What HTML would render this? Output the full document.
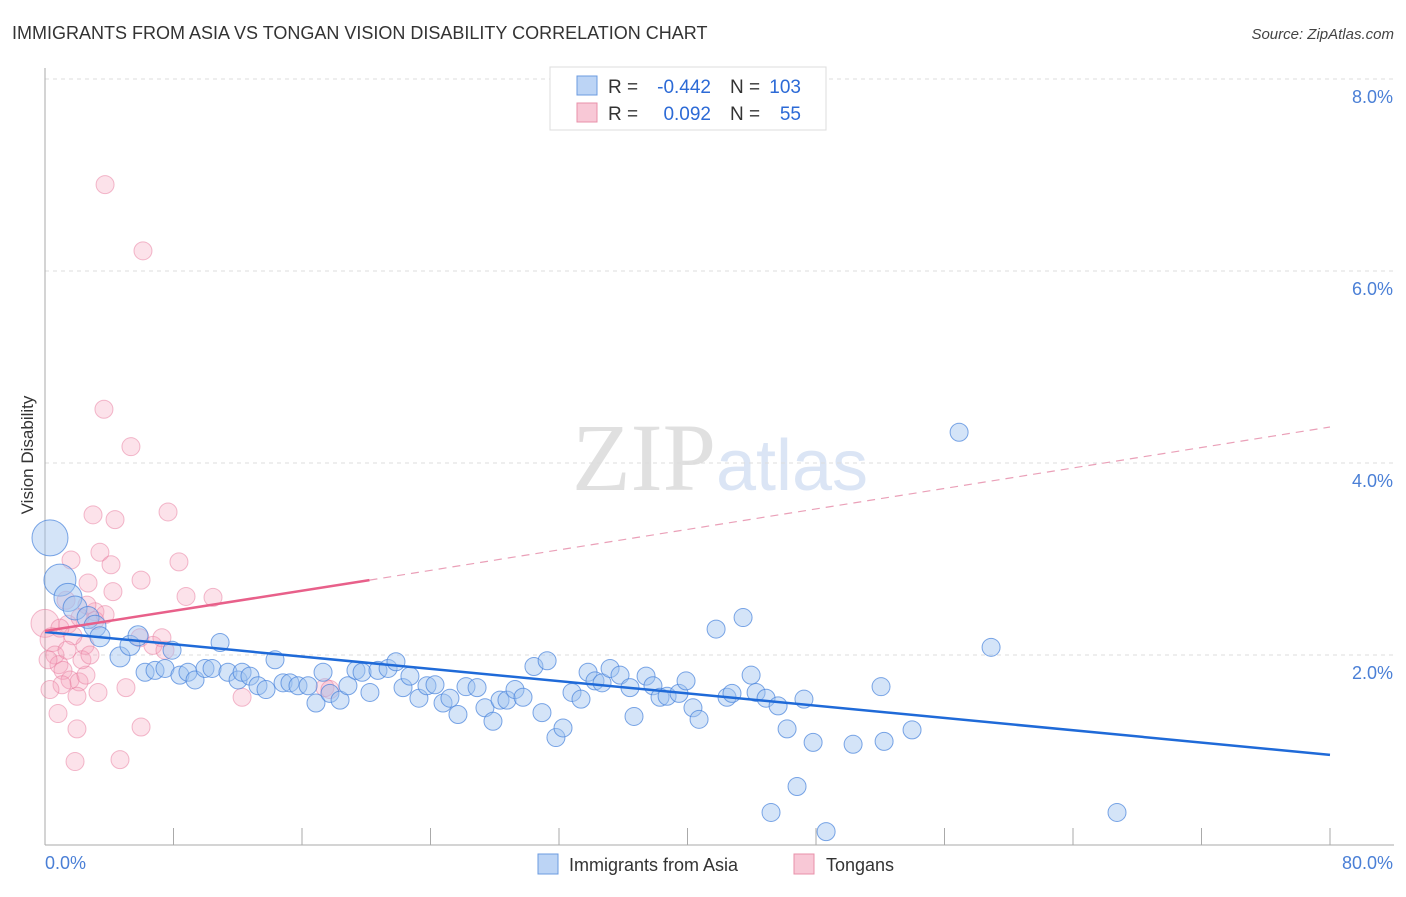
<!DOCTYPE html>
<html><head><meta charset="utf-8"><style>
body{margin:0;background:#fff;font-family:"Liberation Sans",sans-serif}
</style></head><body>
<svg id="chart" width="1406" height="892" xmlns="http://www.w3.org/2000/svg">
<text x="12" y="39" font-size="18" fill="#333">IMMIGRANTS FROM ASIA VS TONGAN VISION DISABILITY CORRELATION CHART</text>
<text x="1394" y="39" font-size="15" fill="#444" text-anchor="end" font-style="italic">Source: ZipAtlas.com</text>
<text x="720" y="490" font-size="96" text-anchor="middle" font-family="Liberation Serif" fill="#e2e2e2"><tspan fill="#e0e0e0">ZIP</tspan><tspan fill="#dbe5f5" font-family="Liberation Sans" font-size="72">atlas</tspan></text>
<g id="grid"></g>
<g id="axes"></g>
<g id="marks"></g>
<text transform="translate(33,455) rotate(-90)" font-size="17" fill="#333" text-anchor="middle">Vision Disability</text>
<g>
<rect x="550" y="67" width="276" height="63" fill="#fff" stroke="#ddd"/>
<rect x="577" y="76" width="20" height="19" fill="#bcd4f5" stroke="#6b9be0"/>
<rect x="577" y="103" width="20" height="19" fill="#f8c8d6" stroke="#e890aa"/>
<text x="608" y="93" font-size="19" fill="#333">R =</text>
<text x="711" y="93" font-size="19" fill="#2c6ad6" text-anchor="end">-0.442</text>
<text x="730" y="93" font-size="19" fill="#333">N =</text>
<text x="801" y="93" font-size="19" fill="#2c6ad6" text-anchor="end">103</text>
<text x="608" y="120" font-size="19" fill="#333">R =</text>
<text x="711" y="120" font-size="19" fill="#2c6ad6" text-anchor="end">0.092</text>
<text x="730" y="120" font-size="19" fill="#333">N =</text>
<text x="801" y="120" font-size="19" fill="#2c6ad6" text-anchor="end">55</text>
</g>
<g>
<rect x="538" y="854" width="20" height="20" fill="#bcd4f5" stroke="#6b9be0"/>
<text x="569" y="871" font-size="18" fill="#333">Immigrants from Asia</text>
<rect x="794" y="854" width="20" height="20" fill="#f8c8d6" stroke="#e890aa"/>
<text x="826" y="871" font-size="18" fill="#333">Tongans</text>
</g>
</svg>
<script>
const blueX=[0.31,0.93,1.43,1.87,2.68,3.11,3.42,4.67,5.29,5.79,6.23,6.85,7.47,7.91,8.40,8.90,9.34,9.96,10.40,10.90,11.39,12.02,12.27,12.76,13.26,13.76,14.32,14.82,15.25,15.75,16.38,16.87,17.31,17.74,18.37,18.86,19.36,19.74,20.23,20.73,21.36,21.85,22.29,22.72,23.28,23.78,24.28,24.78,25.21,25.71,26.21,26.90,27.39,27.89,28.33,28.76,29.26,29.76,30.44,30.94,31.26,31.81,32.25,32.81,33.37,33.81,34.24,34.68,35.18,35.80,36.42,36.67,37.42,37.85,38.29,38.73,39.47,39.91,40.34,40.72,41.78,42.46,42.77,43.46,43.96,44.27,44.89,45.64,46.20,46.82,47.25,47.82,45.20,48.63,50.31,52.05,52.24,53.98,56.91,58.90,66.74];
const blueY=[3.22,2.78,2.60,2.49,2.39,2.30,2.19,1.98,2.10,2.20,1.82,1.84,1.86,2.05,1.79,1.82,1.74,1.86,1.86,2.13,1.82,1.74,1.82,1.78,1.68,1.64,1.95,1.71,1.71,1.68,1.68,1.50,1.82,1.60,1.53,1.68,1.84,1.82,1.61,1.84,1.86,1.93,1.66,1.78,1.55,1.68,1.69,1.50,1.55,1.38,1.67,1.66,1.45,1.31,1.53,1.53,1.64,1.56,1.88,1.40,1.94,1.14,1.24,1.61,1.54,1.82,1.73,1.71,1.86,1.79,1.66,1.36,1.78,1.68,1.56,1.57,1.60,1.73,1.45,1.33,2.27,1.56,1.60,2.39,1.79,1.61,1.55,1.47,1.23,0.63,1.54,1.09,0.36,0.16,1.07,1.67,1.10,1.22,4.32,2.08,0.36];
const blueSize=[18,16,14,12,11,11,10,10,10,10];
const pinkX=[3.74,6.10,3.67,5.35,2.99,4.36,7.66,3.42,1.62,4.11,8.34,5.98,2.68,8.78,10.46,4.23,3.11,1.43,0,0.44,0.62,0.87,0.19,1.12,2.18,2.49,1.74,1.56,2.12,2.55,1.06,1.99,3.30,5.04,5.91,6.72,7.28,2.30,2.80,17.43,17.74,12.27,0.81,1.99,5.98,1.87,4.67,1.37,0.31,2.61,3.11,0.93,1.31,3.74,7.47];
const pinkY=[6.90,6.21,4.56,4.17,3.46,3.41,3.49,3.07,2.99,2.94,2.97,2.78,2.75,2.61,2.60,2.66,2.45,2.32,2.33,2.16,2.00,1.90,1.95,1.84,2.39,2.10,2.20,1.74,1.72,1.79,1.69,1.57,1.61,1.66,2.18,2.10,2.18,1.95,2.00,1.66,1.64,1.56,1.39,1.23,1.25,0.89,0.91,2.05,1.64,2.52,2.36,2.28,2.57,2.42,2.05];
const pinkSize={18:14,19:12};
const blueTrend=[[0,2.24],[80,0.96]];
const pinkTrend=[[0,2.25],[20.2,2.78],[80,4.375]];
const yTicks=[2,4,6,8];
const yTickLabels=["2.0%","4.0%","6.0%","8.0%"];
const xTicks=[0,8,16,24,32,40,48,56,64,72,80];
const NS="http://www.w3.org/2000/svg";
const sx=v=>45+v/80*1285;
const sy=v=>847-v*96;
function mk(tag,attrs,parent){const e=document.createElementNS(NS,tag);for(const k in attrs)e.setAttribute(k,attrs[k]);parent.appendChild(e);return e;}
const grid=document.getElementById('grid'),axes=document.getElementById('axes'),marks=document.getElementById('marks');
yTicks.forEach((t,i)=>{
 const l=mk('line',{x1:45,x2:1394,y1:sy(t),y2:sy(t),stroke:'#ddd','stroke-dasharray':'4,4'},grid);
 
 
 const tx=mk('text',{x:1393,y:sy(t)+24,'font-size':18,fill:'#4a7fd6','text-anchor':'end'},grid);
 tx.textContent=yTickLabels[i];
 
 
});
const ax=mk('line',{x1:45,x2:45,y1:68,y2:845,stroke:'#aaa'},axes);


const bx=mk('line',{x1:45,x2:1394,y1:845,y2:845,stroke:'#aaa'},axes);


xTicks.forEach(t=>{
 const l=mk('line',{x1:sx(t),x2:sx(t),y1:828,y2:845,stroke:'#aaa'},axes);
 
 
});
[[0,"0.0%","start",45],[80,"80.0%","end",1393]].forEach(a=>{
 const tx=mk('text',{x:a[3],y:869,'font-size':18,fill:'#4a7fd6','text-anchor':a[2]},axes);
 tx.textContent=a[1];
 
 
});
pinkX.forEach((x,i)=>{
 const c=mk('circle',{cx:sx(x),cy:sy(pinkY[i]),r:pinkSize[i]||9,fill:'rgba(244,160,186,0.3)',stroke:'rgba(232,120,155,0.5)','stroke-width':1},marks);
 
 
});
blueX.forEach((x,i)=>{
 const c=mk('circle',{cx:sx(x),cy:sy(blueY[i]),r:blueSize[i]||9,fill:'rgba(160,196,240,0.45)',stroke:'rgba(70,130,220,0.7)','stroke-width':1},marks);
 
 
});
const bl=mk('line',{x1:sx(blueTrend[0][0]),y1:sy(blueTrend[0][1]),x2:sx(blueTrend[1][0]),y2:sy(blueTrend[1][1]),stroke:'#1f6ad8','stroke-width':2.5},marks);


const pl=mk('line',{x1:sx(pinkTrend[0][0]),y1:sy(pinkTrend[0][1]),x2:sx(pinkTrend[1][0]),y2:sy(pinkTrend[1][1]),stroke:'#e8608a','stroke-width':2.5},marks);


const pd=mk('line',{x1:sx(pinkTrend[1][0]),y1:sy(pinkTrend[1][1]),x2:sx(pinkTrend[2][0]),y2:sy(pinkTrend[2][1]),stroke:'#eaa0b8','stroke-width':1.2,'stroke-dasharray':'8,6'},marks);


</script>
</body></html>
